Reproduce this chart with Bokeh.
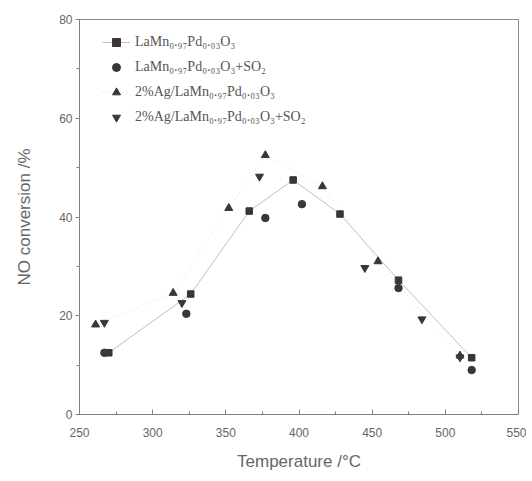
from bokeh.plotting import figure
from bokeh.models import Range1d, Legend, LegendItem, FixedTicker
from bokeh.embed import file_html
from bokeh.resources import INLINE

# Data
t_s1 = [270, 326, 366, 396, 428, 468, 518]
y_s1 = [12.5, 24.4, 41.2, 47.5, 40.6, 27.2, 11.5]

t_s2 = [267, 323, 377, 402, 468, 518]
y_s2 = [12.5, 20.4, 39.8, 42.6, 25.6, 9.0]

t_s3 = [261, 314, 352, 377, 416, 454, 510]
y_s3 = [18.2, 24.6, 41.8, 52.5, 46.2, 31.0, 11.9]

t_s4 = [267, 320, 373, 445, 484, 510]
y_s4 = [18.6, 22.6, 48.2, 29.7, 19.3, 11.6]

labels = ["LaMn\u2080.\u2089\u2087Pd\u2080.\u2080\u2083O\u2083",
          "LaMn\u2080.\u2089\u2087Pd\u2080.\u2080\u2083O\u2083+SO\u2082",
          "2%Ag/LaMn\u2080.\u2089\u2087Pd\u2080.\u2080\u2083O\u2083",
          "2%Ag/LaMn\u2080.\u2089\u2087Pd\u2080.\u2080\u2083O\u2083+SO\u2082"]

x_ticks = [250, 300, 350, 400, 450, 500, 550]
x_minor = [275, 325, 375, 425, 475, 525]
y_ticks = [0, 20, 40, 60, 80]
y_minor = [10, 30, 50, 70]

mk = "#3d3438"
grey = "#808080"

p = figure(width=526, height=478, x_range=Range1d(250, 550), y_range=Range1d(0, 80),
           output_backend="svg", toolbar_location=None,
           min_border_left=79, min_border_right=8, min_border_top=19, min_border_bottom=64)
p.xgrid.visible = False
p.ygrid.visible = False
p.outline_line_color = "#8a8a8a"
p.outline_line_width = 1
p.background_fill_color = "white"
p.border_fill_color = "white"

l1 = p.line(t_s1, y_s1, line_color="#c0c0c0", line_width=1)
l3 = p.line(t_s3, y_s3, line_color="#dadada", line_width=1, line_dash="1 3")
r1 = p.scatter(t_s1, y_s1, marker="square", size=6.5, fill_color=mk, line_color=mk)
r2 = p.scatter(t_s2, y_s2, marker="circle", size=7.5, fill_color=mk, line_color=mk)
r3 = p.scatter(t_s3, y_s3, marker="triangle", size=8, fill_color=mk, line_color=mk)
r4 = p.scatter(t_s4, y_s4, marker="inverted_triangle", size=8, fill_color=mk, line_color=mk)

legend = Legend(items=[
    LegendItem(label=labels[0], renderers=[l1, r1]),
    LegendItem(label=labels[1], renderers=[r2]),
    LegendItem(label=labels[2], renderers=[l3, r3]),
    LegendItem(label=labels[3], renderers=[r4]),
], location=(23, 287))
legend.border_line_color = None
legend.background_fill_alpha = 0
legend.padding = 0
legend.margin = 0
legend.spacing = 5
legend.glyph_width = 28
legend.glyph_height = 20
legend.label_height = 20
legend.label_standoff = 5
legend.label_text_font = "Liberation Serif"
legend.label_text_font_size = "14px"
legend.label_text_color = "#555555"
p.add_layout(legend, "center")

p.xaxis.ticker = FixedTicker(ticks=x_ticks, minor_ticks=x_minor)
p.yaxis.ticker = FixedTicker(ticks=y_ticks, minor_ticks=y_minor)

for ax in (p.xaxis[0], p.yaxis[0]):
    ax.axis_line_color = grey
    ax.major_tick_line_color = grey
    ax.minor_tick_line_color = grey
    ax.major_label_text_color = "#666666"
    ax.major_label_text_font = "Liberation Sans"
    ax.major_label_text_font_size = "12px"
    ax.axis_label_text_color = "#666666"
    ax.axis_label_text_font = "Liberation Sans"
    ax.axis_label_text_font_size = "17px"
    ax.axis_label_text_font_style = "normal"

p.xaxis.axis_label = "Temperature /\u00b0C"
p.xaxis.major_tick_in = 5
p.xaxis.major_tick_out = 0
p.xaxis.minor_tick_in = 3
p.xaxis.minor_tick_out = 0
p.xaxis.major_label_standoff = 13
p.xaxis.axis_label_standoff = 12

p.yaxis.axis_label = "NO conversion /%"
p.yaxis.major_tick_in = 0
p.yaxis.major_tick_out = 4
p.yaxis.minor_tick_in = 0
p.yaxis.minor_tick_out = 3
p.yaxis.major_label_standoff = 3
p.yaxis.axis_label_standoff = 22

open("out.html", "w").write(file_html(p, INLINE))
